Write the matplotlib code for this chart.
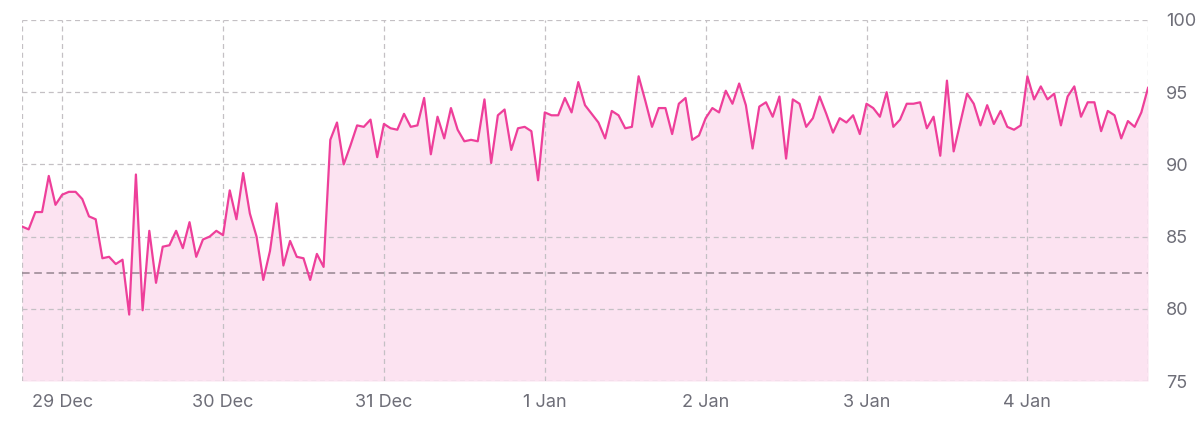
import matplotlib
matplotlib.use("Agg")
import matplotlib.pyplot as plt
import matplotlib.dates as mdates
import numpy as np
import pandas as pd

# hourly values, 28 Dec 18:00 -> 4 Jan 18:00
start = "2023-12-28 18:00"
values = [
    85.7, 85.5, 86.7, 86.7, 89.2, 87.2, 87.9, 88.1, 88.1, 87.6,
    86.4, 86.2, 83.5, 83.6, 83.1, 83.4, 79.6, 89.3, 79.9, 85.4,
    81.8, 84.3, 84.4, 85.4, 84.2, 86.0, 83.6, 84.8, 85.0, 85.4,
    85.1, 88.2, 86.2, 89.4, 86.6, 85.0, 82.0, 84.0, 87.3, 83.0,
    84.7, 83.6, 83.5, 82.0, 83.8, 82.9, 91.7, 92.9, 90.0, 91.3,
    92.7, 92.6, 93.1, 90.5, 92.8, 92.5, 92.4, 93.5, 92.6, 92.7,
    94.6, 90.7, 93.3, 91.8, 93.9, 92.4, 91.6, 91.7, 91.6, 94.5,
    90.1, 93.4, 93.8, 91.0, 92.5, 92.6, 92.3, 88.9, 93.6, 93.4,
    93.4, 94.6, 93.6, 95.7, 94.1, 93.5, 92.9, 91.8, 93.7, 93.4,
    92.5, 92.6, 96.1, 94.4, 92.6, 93.9, 93.9, 92.1, 94.2, 94.6,
    91.7, 92.0, 93.2, 93.9, 93.6, 95.1, 94.2, 95.6, 94.1, 91.1,
    94.0, 94.3, 93.3, 94.7, 90.4, 94.5, 94.2, 92.6, 93.2, 94.7,
    93.5, 92.2, 93.2, 92.9, 93.4, 92.1, 94.2, 93.9, 93.3, 95.0,
    92.6, 93.1, 94.2, 94.2, 94.3, 92.5, 93.3, 90.6, 95.8, 90.9,
    92.9, 94.9, 94.2, 92.7, 94.1, 92.8, 93.7, 92.6, 92.4, 92.7,
    96.1, 94.5, 95.4, 94.5, 94.9, 92.7, 94.7, 95.4, 93.3, 94.3,
    94.3, 92.3, 93.7, 93.4, 91.8, 93.0, 92.6, 93.6, 95.3,
]
times = pd.date_range(start, periods=len(values), freq="h")

threshold = 82.5
y_ticks = [75, 80, 85, 90, 95, 100]
day_ticks = pd.date_range("2023-12-29", "2024-01-04", freq="D")
day_labels = ["29 Dec", "30 Dec", "31 Dec", "1 Jan", "2 Jan", "3 Jan", "4 Jan"]

line_color = "#EE3F9A"
fill_color = "#FCE3F1"
grid_color = "#C4C0C4"
text_color = "#6E6E78"

plt.rcParams["font.family"] = ["Inter", "DejaVu Sans"]

fig = plt.figure(figsize=(12, 4.25), dpi=100)
ax = fig.add_axes([0.0183, 0.1035, 0.9384, 0.8495])

ax.fill_between(times, values, 75, color=fill_color, linewidth=0, zorder=1)
ax.plot(times, values, color=line_color, linewidth=1.6, zorder=4)

# dashed grid
for y in y_ticks:
    ax.axhline(y, color=grid_color, linewidth=0.9, linestyle=(0, (4, 3)), zorder=2)
for d in day_ticks:
    ax.axvline(d, color=grid_color, linewidth=0.9, linestyle=(0, (4, 3)), zorder=2)
ax.axvline(times[0], color=grid_color, linewidth=0.9, linestyle=(0, (4, 3)), zorder=2)
ax.axvline(times[-1], color=grid_color, linewidth=0.9, linestyle=(0, (4, 3)), zorder=2)

ax.axhline(threshold, color="#958590", linewidth=1.1, linestyle=(0, (5, 3)), zorder=3)

ax.set_xlim(times[0], times[-1])
ax.set_ylim(75, 100)

for s in ax.spines.values():
    s.set_visible(False)

ax.set_xticks(day_ticks)
ax.set_xticklabels(day_labels)
ax.yaxis.tick_right()
ax.set_yticks(y_ticks)
ax.tick_params(axis="both", length=0, labelsize=13, colors=text_color)
ax.tick_params(axis="x", pad=9)
ax.tick_params(axis="y", pad=13)

fig.savefig("out.png", dpi=100, facecolor="white")
